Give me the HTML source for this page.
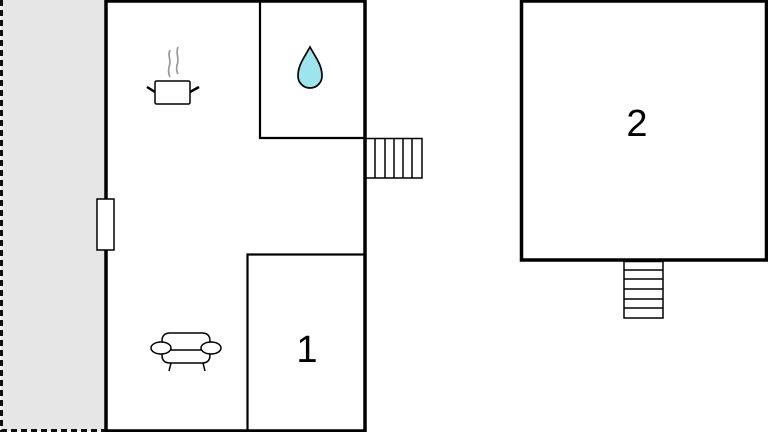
<!DOCTYPE html>
<html><head><meta charset="utf-8"><style>html,body{margin:0;padding:0;background:#fff;}svg{display:block}</style></head>
<body>
<svg width="768" height="432" viewBox="0 0 768 432" xmlns="http://www.w3.org/2000/svg">
<rect x="1" y="0" width="104" height="431" fill="#e6e6e6"/>
<path d="M1.5 0 V430.5 H105" fill="none" stroke="#111" stroke-width="3" stroke-dasharray="6 4"/>
<rect x="106" y="1" width="259" height="430" fill="#fff" stroke="#000" stroke-width="3.5"/>
<line x1="106" y1="1" x2="365" y2="1" stroke="#000" stroke-width="2"/>
<path d="M260 1 V138 H365" fill="none" stroke="#000" stroke-width="2.2"/>
<path d="M247.5 431 V254.5 H365" fill="none" stroke="#000" stroke-width="2.2"/>
<rect x="97" y="199" width="17" height="51" fill="#fff" stroke="#000" stroke-width="1.5"/>
<g stroke="#000" stroke-width="1.5" fill="#fff">
<rect x="366" y="138.5" width="56" height="39.5"/>
<line x1="375" y1="138.5" x2="375" y2="178"/><line x1="385" y1="138.5" x2="385" y2="178"/><line x1="394" y1="138.5" x2="394" y2="178"/><line x1="403" y1="138.5" x2="403" y2="178"/><line x1="412" y1="138.5" x2="412" y2="178"/>
</g>
<path d="M310 47 C304 58 298 65 298 76 A12 12 0 0 0 322 76 C322 65 316 58 310 47 Z" fill="#9de4ec" stroke="#000" stroke-width="1.7"/>
<g stroke="#999" stroke-width="1.7" fill="none"><path d="M170 50 C167 56 172 60 169 67 C168 72 169 75 170 77"/><path d="M178 47 C175 54 180 58 177 65 C176 70 177 72 178 74"/></g>
<g stroke="#000" stroke-width="1.5" fill="none">
<rect x="155" y="81" width="35" height="23" rx="1.5" fill="#fff"/>
<path d="M147 87 L155 92" stroke-width="2.5"/><path d="M199 87 L190 92" stroke-width="2.5"/>
</g>
<g stroke="#000" stroke-width="1.5" fill="#fff">
<path d="M162 355 V341 Q162 333 170 333 H202 Q210 333 210 341 V355 Q210 363 202 363 H170 Q162 363 162 355 Z"/>
<line x1="168" y1="350" x2="204" y2="350"/>
<ellipse cx="161" cy="348" rx="10" ry="6"/>
<ellipse cx="211" cy="348" rx="10" ry="6"/>
<path d="M171 363 L169 371 M203 363 L205 371" fill="none"/>
</g>
<text x="307" y="362" font-family="Liberation Sans, sans-serif" font-size="38" text-anchor="middle" fill="#000">1</text>
<rect x="521.5" y="1" width="245" height="259" fill="#fff" stroke="#000" stroke-width="3.5"/>
<text x="637" y="136" font-family="Liberation Sans, sans-serif" font-size="38" text-anchor="middle" fill="#000">2</text>
<g stroke="#000" stroke-width="1.5" fill="#fff">
<rect x="624" y="261.5" width="39" height="56.5"/>
<line x1="624" y1="270" x2="663" y2="270"/><line x1="624" y1="279" x2="663" y2="279"/><line x1="624" y1="289" x2="663" y2="289"/><line x1="624" y1="299" x2="663" y2="299"/><line x1="624" y1="308" x2="663" y2="308"/>
</g>
</svg>
</body></html>
